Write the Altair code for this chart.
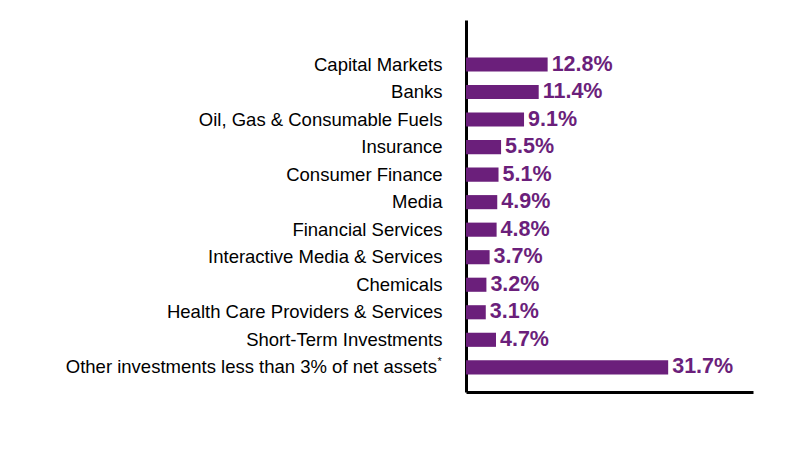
import altair as alt
import pandas as pd

categories = [
    "Capital Markets",
    "Banks",
    "Oil, Gas & Consumable Fuels",
    "Insurance",
    "Consumer Finance",
    "Media",
    "Financial Services",
    "Interactive Media & Services",
    "Chemicals",
    "Health Care Providers & Services",
    "Short-Term Investments",
    "Other investments less than 3% of net assets",
]
footnote_marks = ["", "", "", "", "", "", "", "", "", "", "", "*"]
values = [12.8, 11.4, 9.1, 5.5, 5.1, 4.9, 4.8, 3.7, 3.2, 3.1, 4.7, 31.7]

df = pd.DataFrame({"category": categories, "value": values, "mark": footnote_marks})
df["label"] = df["value"].map(lambda v: f"{v:.1f}%")
df_note = df[df["mark"] != ""]

purple = "#6B1F7B"
FONT = "Liberation Sans"
LSIZE = 18.5

ysort = alt.Y("category:N", sort=categories)

y = alt.Y(
    "category:N",
    sort=categories,
    scale=alt.Scale(paddingInner=0.487, paddingOuter=1, align=0.68),
    axis=alt.Axis(
        title=None,
        ticks=False,
        labelPadding=24,
        labelFont=FONT,
        labelFontSize=LSIZE,
        labelColor="#000000",
        labelLimit=600,
        labelExpr="indexof(datum.label, 'Other') == 0 ? '' : datum.label",
        domainColor="#000000",
        domainWidth=3,
        grid=False,
    ),
)
x = alt.X(
    "value:Q",
    scale=alt.Scale(domain=[0, 45], nice=False),
    axis=alt.Axis(
        title=None,
        ticks=False,
        labels=False,
        grid=False,
        domainColor="#000000",
        domainWidth=3,
    ),
)

bars = alt.Chart(df).mark_bar(color=purple).encode(x=x, y=y)
text = alt.Chart(df).mark_text(
    align="left",
    baseline="middle",
    dx=4,
    font=FONT,
    fontSize=21.5,
    fontWeight="bold",
    color=purple,
).encode(x="value:Q", y=ysort, text="label:N")

note_label = alt.Chart(df_note).mark_text(
    align="right",
    baseline="middle",
    dx=-29,
    font=FONT,
    fontSize=LSIZE,
    color="#000000",
).encode(x=alt.datum(0), y=ysort, text="category:N")

note_mark = alt.Chart(df_note).mark_text(
    align="left",
    baseline="middle",
    dx=-28.5,
    dy=-5,
    font=FONT,
    fontSize=11,
    color="#000000",
).encode(x=alt.datum(0), y=ysort, text="mark:N")

chart = (
    (bars + text + note_label + note_mark)
    .properties(
        width=287,
        height=372,
        autosize=alt.AutoSizeParams(type="none"),
        padding={"left": 458, "top": 12, "right": 40, "bottom": 50},
        background="#ffffff",
    )
    .configure_view(stroke=None)
)

chart.save("out.html", embed_options={"renderer": "svg", "actions": False})
